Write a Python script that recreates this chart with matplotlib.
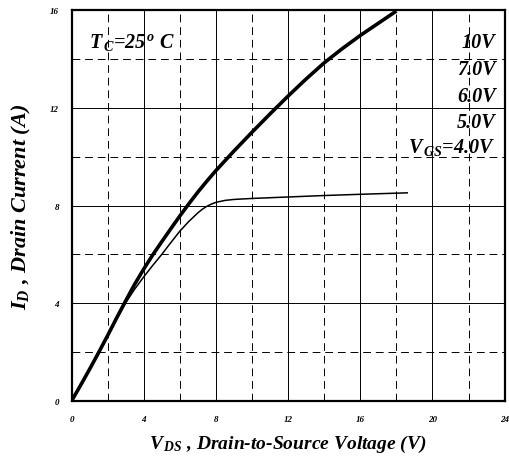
import numpy as np
import matplotlib
matplotlib.use("Agg")
from matplotlib import pyplot as plt

plt.rcParams['font.family'] = ['Liberation Serif', 'DejaVu Serif']
plt.rcParams['mathtext.fontset'] = 'custom'
plt.rcParams['mathtext.rm'] = 'Liberation Serif:bold:italic'
plt.rcParams['mathtext.it'] = 'Liberation Serif:bold:italic'

# VGS = 5V .. 10V (curves nearly overlap)
vds_hi = [0, 0.5, 1, 1.5, 2, 2.5, 3, 3.5, 4, 4.5, 5, 5.5, 6, 6.5, 7, 7.5, 8, 9, 10, 11, 12, 13, 14, 15, 16, 17, 18]
id_hi = [0, 0.64, 1.3, 1.98, 2.68, 3.4, 4.1, 4.78, 5.4, 5.98, 6.52, 7.05, 7.57, 8.07, 8.55, 9.0, 9.43, 10.23, 11.0, 11.75, 12.48, 13.18, 13.84, 14.42, 14.96, 15.46, 15.96]
# VGS = 4V
vds_4 = [0, 0.5, 1, 1.5, 2, 2.5, 3, 3.5, 4, 4.5, 5, 5.5, 6, 6.5, 7, 7.25, 7.5, 7.75, 8, 8.5, 9, 10, 12, 14, 16, 18.6]
id_4 = [0, 0.64, 1.3, 1.98, 2.66, 3.35, 4.02, 4.58, 5.08, 5.55, 6.0, 6.48, 6.95, 7.35, 7.7, 7.85, 7.97, 8.06, 8.13, 8.21, 8.25, 8.29, 8.35, 8.41, 8.46, 8.52]

curve_labels = ["10V", "7.0V", "6.0V", "5.0V"]
label_y = [14.7, 13.6, 12.5, 11.4]

fig = plt.figure(figsize=(5.09, 4.60), dpi=100)
ax = fig.add_axes([0.1405, 0.126, 0.851, 0.850])

# grid
for v in [4, 8, 12, 16, 20]:
    ax.axvline(v, color='black', lw=0.7)
for v in [2, 6, 10, 14, 18, 22]:
    ax.axvline(v, color='black', lw=0.7, ls=(0, (8, 5)))
for i in [4, 8, 12]:
    ax.axhline(i, color='black', lw=0.7)
for i in [2, 6, 10, 14]:
    ax.axhline(i, color='black', lw=0.7, ls=(0, (8, 5)))

# curves
ax.plot(vds_hi, id_hi, color='black', lw=2.6, solid_capstyle='butt')
ax.plot(vds_4, id_4, color='black', lw=1.1)

ax.set_xlim(0, 24)
ax.set_ylim(0, 16)
ax.set_xticks([0, 4, 8, 12, 16, 20, 24])
ax.set_yticks([0, 4, 8, 12, 16])
ax.tick_params(axis='x', length=0, pad=10, labelsize=6.5)
ax.tick_params(axis='y', length=0, pad=9, labelsize=6.5)
for lab in ax.get_xticklabels() + ax.get_yticklabels():
    lab.set_fontweight('bold')
    lab.set_fontstyle('italic')
for s in ax.spines.values():
    s.set_linewidth(1.6)

ax.text(0.95, 14.7, r'$T_{\,C}$=25$^{\,o}$ C', fontsize=14.5, fontweight='bold', style='italic', va='center')
for t, y in zip(curve_labels, label_y):
    ax.text(23.5, y, t, fontsize=14.5, fontweight='bold', style='italic', ha='right', va='center')
ax.text(23.5, 10.4, r'$V_{\,GS}$=4.0V', fontsize=14.5, fontweight='bold', style='italic', ha='right', va='center')

ax.set_xlabel(r'$V_{\,DS}$ , Drain-to-Source Voltage (V)', fontsize=14, fontweight='bold', style='italic', labelpad=7)
ax.set_ylabel(r'$I_D$ , Drain Current (A)', fontsize=16, fontweight='bold', style='italic', labelpad=12)

fig.savefig('out.png', dpi=100)
